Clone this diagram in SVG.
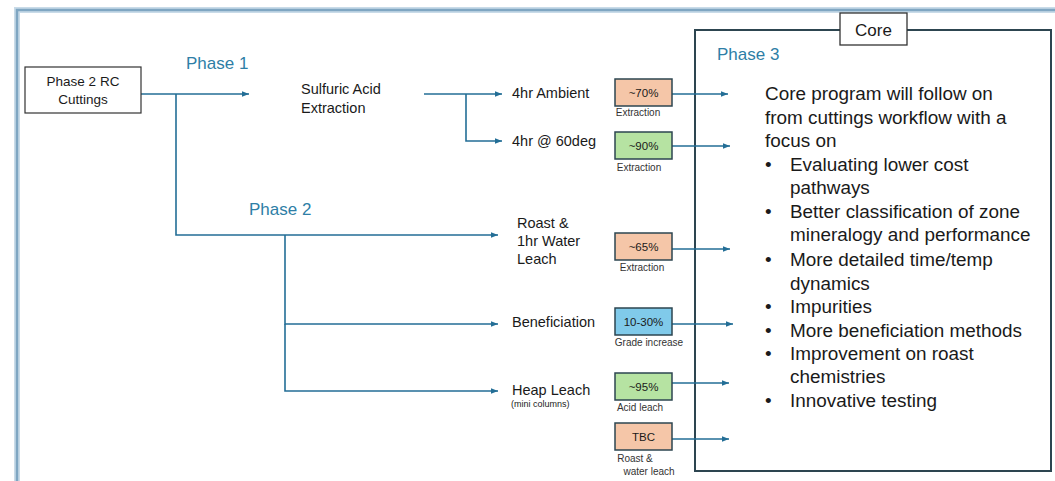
<svg xmlns="http://www.w3.org/2000/svg" width="1055" height="481" viewBox="0 0 1055 481">
<defs>
<marker id="arr" viewBox="0 0 10 10" refX="10" refY="5" markerWidth="7" markerHeight="7" markerUnits="userSpaceOnUse" orient="auto">
<path d="M0,1 L10,5 L0,9 Z" fill="#236e96"/>
</marker>
<style>
text{font-family:"Liberation Sans",Arial,sans-serif;fill:#1a1a1a}
.ph{font-size:17px;fill:#2e7ea6}
.lbl{font-size:14.5px}
.st{font-size:13.5px;text-anchor:middle}
.res{font-size:11.5px;text-anchor:middle}
.sub{font-size:10px;text-anchor:middle;fill:#333}
.core{font-size:18.9px}
.box{stroke:#2d4550;stroke-width:1.5}
.conn{fill:none;stroke:#236e96;stroke-width:1.6}
.arr{marker-end:url(#arr)}
</style>
</defs>
<rect width="1055" height="481" fill="#ffffff"/>
<g id="frame">
<path d="M17,481 L17,10 L1055,10" fill="none" stroke="#c9dbe8" stroke-width="6"/>
<path d="M17,481 L17,10 L1055,10" fill="none" stroke="#7fa6c2" stroke-width="2.5"/>
</g>
<g id="core-box">
<rect x="695" y="30" width="356" height="441" fill="#ffffff" stroke="#2d4550" stroke-width="2"/>
<rect x="840" y="13" width="67" height="32" fill="#ffffff" stroke="#333" stroke-width="1.3"/>
<text x="873.5" y="36" font-size="17" text-anchor="middle">Core</text>
<text x="717" y="60" class="ph">Phase 3</text>
<text class="core" x="765" y="100">Core program will follow on</text>
<text class="core" x="765" y="124">from cuttings workflow with a</text>
<text class="core" x="765" y="147">focus on</text>
<text class="core" x="765" y="171">•</text><text class="core" x="790" y="171">Evaluating lower cost</text>
<text class="core" x="790" y="194">pathways</text>
<text class="core" x="765" y="218">•</text><text class="core" x="790" y="218">Better classification of zone</text>
<text class="core" x="790" y="241">mineralogy and performance</text>
<text class="core" x="765" y="266">•</text><text class="core" x="790" y="266">More detailed time/temp</text>
<text class="core" x="790" y="290">dynamics</text>
<text class="core" x="765" y="313">•</text><text class="core" x="790" y="313">Impurities</text>
<text class="core" x="765" y="337">•</text><text class="core" x="790" y="337">More beneficiation methods</text>
<text class="core" x="765" y="360">•</text><text class="core" x="790" y="360">Improvement on roast</text>
<text class="core" x="790" y="383">chemistries</text>
<text class="core" x="765" y="407">•</text><text class="core" x="790" y="407">Innovative testing</text>
</g>
<g id="connectors">
<path class="conn arr" d="M141,94 L249,94"/>
<path class="conn arr" d="M176,94 L176,235 L498,235"/>
<path class="conn arr" d="M285,235 L285,324 L498,324"/>
<path class="conn arr" d="M285,324 L285,391 L498,391"/>
<path class="conn arr" d="M424,94 L502,94"/>
<path class="conn arr" d="M466,94 L466,141 L502,141"/>
<path class="conn arr" d="M672,94 L728,94"/>
<path class="conn arr" d="M672,146 L730,146"/>
<path class="conn arr" d="M672,249 L730,249"/>
<path class="conn arr" d="M672,324 L733,324"/>
<path class="conn arr" d="M672,383 L729,383"/>
<path class="conn arr" d="M672,439 L729,439"/>
</g>
<g id="phase-labels">
<text x="186" y="69" class="ph">Phase 1</text>
<text x="249" y="215" class="ph">Phase 2</text>
</g>
<g id="start">
<rect x="25" y="67" width="116" height="46" fill="#ffffff" stroke="#333" stroke-width="1.2"/>
<text x="83" y="86" class="st">Phase 2 RC</text>
<text x="83" y="104" class="st">Cuttings</text>
</g>
<g id="sulfuric">
<text x="301" y="94" class="lbl">Sulfuric Acid</text>
<text x="301" y="113" class="lbl">Extraction</text>
</g>
<g id="ambient"><text x="512" y="98" class="lbl">4hr Ambient</text></g>
<g id="deg60"><text x="512" y="146" class="lbl">4hr @ 60deg</text></g>
<g id="roast">
<text x="517" y="228" class="lbl">Roast &amp;</text>
<text x="517" y="246" class="lbl">1hr Water</text>
<text x="517" y="264" class="lbl">Leach</text>
</g>
<g id="benef"><text x="512" y="327" class="lbl">Beneficiation</text></g>
<g id="heap">
<text x="512" y="395" class="lbl">Heap Leach</text>
<text x="511" y="407" font-size="9" fill="#333">(mini columns)</text>
</g>
<g id="r70">
<rect class="box" x="615" y="79" width="57" height="27" fill="#f5c6a8"/>
<text class="res" x="643.5" y="97">~70%</text>
<text class="sub" x="638" y="116">Extraction</text>
</g>
<g id="r90">
<rect class="box" x="615" y="132" width="57" height="27" fill="#b6e3a2"/>
<text class="res" x="643.5" y="150">~90%</text>
<text class="sub" x="639" y="171">Extraction</text>
</g>
<g id="r65">
<rect class="box" x="615" y="233" width="57" height="27" fill="#f5c6a8"/>
<text class="res" x="643.5" y="251">~65%</text>
<text class="sub" x="642" y="271">Extraction</text>
</g>
<g id="r1030">
<rect class="box" x="615" y="308" width="57" height="27" fill="#80caea"/>
<text class="res" x="643.5" y="326">10-30%</text>
<text class="sub" x="649" y="346">Grade increase</text>
</g>
<g id="r95">
<rect class="box" x="615" y="373" width="57" height="27" fill="#b6e3a2"/>
<text class="res" x="643.5" y="391">~95%</text>
<text class="sub" x="640" y="411">Acid leach</text>
</g>
<g id="rtbc">
<rect class="box" x="615" y="423" width="57" height="27" fill="#f5c6a8"/>
<text class="res" x="643.5" y="441">TBC</text>
<text class="sub" x="635" y="462">Roast &amp;</text>
<text class="sub" x="649" y="475">water leach</text>
</g>
</svg>
